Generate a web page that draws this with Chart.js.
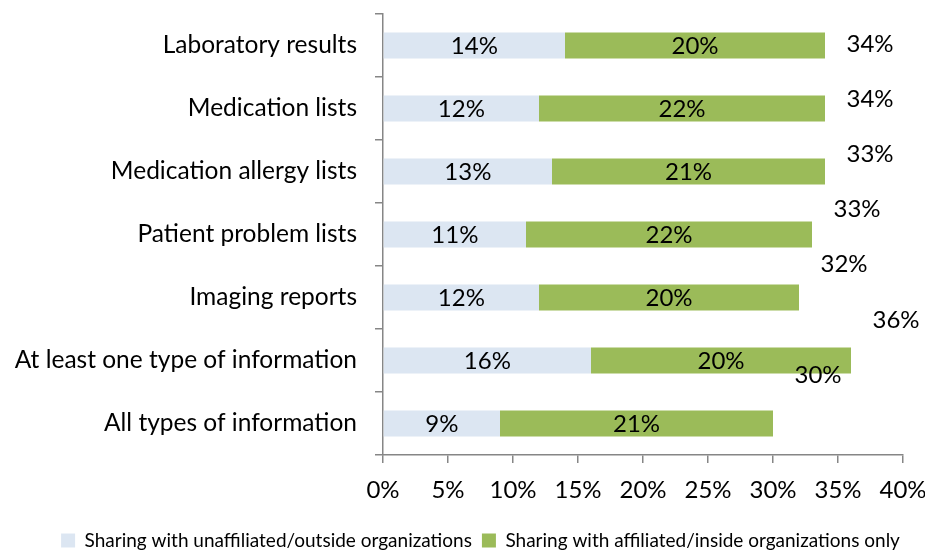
<!DOCTYPE html>
<html>
<head>
<meta charset="utf-8">
<script src="https://cdn.jsdelivr.net/npm/chart.js@4"></script>
<style>
  html, body { margin: 0; padding: 0; background: #fff; }
  #wrap { width: 925px; height: 552px; }
</style>
</head>
<body>
<div id="wrap"><canvas id="chart"></canvas></div>
<script>
// Categories, top to bottom
const categories = [
  'Laboratory results',
  'Medication lists',
  'Medication allergy lists',
  'Patient problem lists',
  'Imaging reports',
  'At least one type of information',
  'All types of information',
];

// Series values (percent)
const outsideValues = [14, 12, 13, 11, 12, 16, 9];
const insideValues = [20, 22, 21, 22, 20, 20, 21];

// Total labels as printed
const totalLabels = ['34%', '34%', '33%', '33%', '32%', '36%', '30%'];

// X axis ticks
const xTicks = [0, 5, 10, 15, 20, 25, 30, 35, 40];

const FONT = 'Lato, "Open Sans", sans-serif';
const AXIS_GRAY = '#868686';

// In the original the total labels drift up: they are spaced a bit
// tighter than the bars (7/8 of a category step)
const TOTAL_STEP = 0.875;

// Draws the value labels inside the bars and the totals beside them
const labelPlugin = {
  id: 'labelPlugin',
  afterLayout(chart) {
    // legend sits a bit right of centre in the original
    chart.legend.left += 18;
    chart.legend.right += 18;
  },
  afterDatasetsDraw(chart) {
    const { ctx } = chart;
    ctx.save();
    ctx.fillStyle = '#000';
    ctx.font = '24px ' + FONT;
    ctx.textAlign = 'center';
    ctx.textBaseline = 'middle';
    chart.data.datasets.forEach((ds, di) => {
      const meta = chart.getDatasetMeta(di);
      meta.data.forEach((bar, i) => {
        ctx.fillText(ds.data[i] + '%', (bar.x + bar.base) / 2, bar.y + 1);
      });
    });
    const x = chart.scales.x;
    const y = chart.scales.y;
    totalLabels.forEach((t, i) => {
      const sum = outsideValues[i] + insideValues[i];
      ctx.fillText(t, x.getPixelForValue(sum) + 45, y.getPixelForValue(i * TOTAL_STEP - 0.02));
    });
    ctx.restore();
  },
};

const chart = new Chart(document.getElementById('chart'), {
  type: 'bar',
  data: {
    labels: categories,
    datasets: [
      {
        label: 'Sharing with unaffiliated/outside organizations',
        data: outsideValues,
        backgroundColor: '#DCE6F2',
        barPercentage: 0.41,
        categoryPercentage: 1,
      },
      {
        label: 'Sharing with affiliated/inside organizations only',
        data: insideValues,
        backgroundColor: '#9BBB59',
        barPercentage: 0.41,
        categoryPercentage: 1,
      },
    ],
  },
  options: {
    indexAxis: 'y',
    responsive: true,
    maintainAspectRatio: false,
    animation: false,
    layout: {
      padding: { top: 14, right: 0, left: 0, bottom: -8 },
    },
    scales: {
      x: {
        stacked: true,
        min: 0,
        max: 40,
        afterBuildTicks: (axis) => {
          axis.ticks = xTicks.map(v => ({ value: v }));
        },
        afterFit: (axis) => {
          axis.height = 66;
          axis.paddingLeft = 0;
          axis.paddingRight = 22;
        },
        border: { color: AXIS_GRAY, width: 1.5 },
        grid: {
          drawOnChartArea: false,
          drawTicks: true,
          tickLength: 8,
          color: AXIS_GRAY,
          lineWidth: 1.5,
        },
        ticks: {
          color: '#000',
          font: { family: FONT, size: 24 },
          padding: 13,
          maxRotation: 0,
          callback: (v) => v + '%',
        },
      },
      y: {
        stacked: true,
        afterFit: (axis) => {
          axis.width = 383;
          axis.paddingTop = 0;
          axis.paddingBottom = 0;
        },
        border: { color: AXIS_GRAY, width: 1.5 },
        grid: {
          offset: true,
          drawOnChartArea: false,
          drawTicks: true,
          tickLength: 8,
          color: AXIS_GRAY,
          lineWidth: 1.5,
        },
        ticks: {
          color: '#000',
          font: { family: FONT, size: 24.5 },
          padding: 18,
        },
      },
    },
    plugins: {
      legend: {
        position: 'bottom',
        labels: {
          color: '#000',
          font: { family: FONT, size: 19 },
          boxWidth: 14,
          boxHeight: 14,
          padding: 10,
        },
      },
      tooltip: { enabled: false },
    },
  },
  plugins: [labelPlugin],
});
</script>
</body>
</html>
